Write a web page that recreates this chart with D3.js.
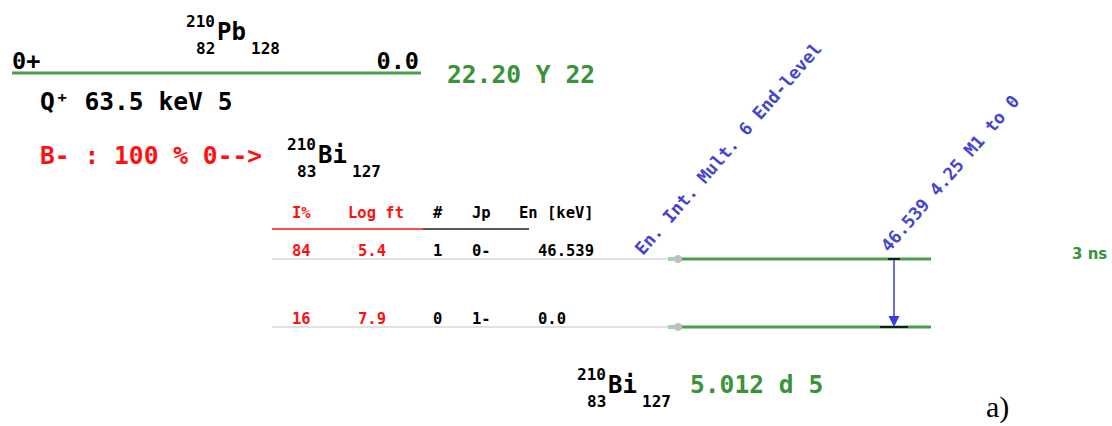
<!DOCTYPE html>
<html>
<head>
<meta charset="utf-8">
<script src="https://cdn.jsdelivr.net/npm/d3@7"></script>
<style>
  html, body { margin: 0; padding: 0; background: #fff; }
  svg { display: block; }
  text { font-family: "DejaVu Sans Mono", monospace; font-weight: bold; }
</style>
</head>
<body>
<svg id="chart" width="1112" height="426"></svg>
<script>
// Parent nucleus: 210Pb (Z=82, N=128)
const parentNuclide = ["210", "Pb", "82", "128"];
const parentSpin = "0+";
const parentEnergy = "0.0";
const parentHalfLife = "22.20 Y 22";
const qValue = "Q\u207A 63.5 keV 5";
const decayMode = "B- : 100 % 0-->";

// Daughter nucleus: 210Bi (Z=83, N=127)
const daughterNuclide = ["210", "Bi", "83", "127"];
const daughterHalfLife = "5.012 d 5";

// Daughter levels, top to bottom
const levelEnergies = [46.539, 0.0];
const levelEnergyLabels = ["46.539", "0.0"];
const levelIndex = [1, 0];
const levelSpins = ["0-", "1-"];
const betaIntensity = [84, 16];
const logFt = [5.4, 7.9];
const levelHalfLives = ["3 ns", ""];

// Table headings
const tableHeaders = ["I%", "Log ft", "#", "Jp", "En [keV]"];

// Gamma transitions
const gammaFrom = [46.539];
const gammaTo = [0.0];
const gammaIntensity = [4.25];
const gammaMult = ["M1"];
const gammaHeader = "En. Int. Mult. 6 End-level";

const GREEN_TEXT = "#3a923a";
const GREEN_LINE = "#4a9e4a";
const RED = "#ff1010";
const BLUE = "#4545d0";
const BIG = 24.6;

const svg = d3.select("#chart");
svg.append("rect").attr("width", 1112).attr("height", 426).attr("fill", "#fff");

// vertical scale for daughter levels
const yLevel = d3.scaleLinear().domain([0, d3.max(levelEnergies)]).range([327, 259]);

// table columns
const col = d3.scaleOrdinal()
  .domain(tableHeaders)
  .range([292, 348, 433, 472, 519]);
const valueX = [292, 358, 433, 472, 538];

// nuclide symbol with mass, atomic and neutron numbers
function nuclide(g, parts, x, yBase) {
  const [A, sym, Z, N] = parts;
  g.append("text").attr("x", x).attr("y", yBase - 13).attr("font-size", 16).text(A);
  g.append("text").attr("x", x + 31).attr("y", yBase).attr("font-size", 24).text(sym);
  g.append("text").attr("x", x + 10).attr("y", yBase + 14).attr("font-size", 16).text(Z);
  g.append("text").attr("x", x + 65).attr("y", yBase + 14).attr("font-size", 16).text(N);
}

// ---- parent level ----
const parentG = svg.append("g");
nuclide(parentG, parentNuclide, 186, 40);
parentG.append("line").attr("x1", 12).attr("x2", 421).attr("y1", 73).attr("y2", 73)
  .attr("stroke", GREEN_LINE).attr("stroke-width", 3);
parentG.append("text").attr("x", 12).attr("y", 69).attr("font-size", 23.5).text(parentSpin);
parentG.append("text").attr("x", 419).attr("y", 69).attr("font-size", 23.5)
  .attr("text-anchor", "end").text(parentEnergy);
parentG.append("text").attr("x", 447).attr("y", 83).attr("font-size", BIG)
  .attr("fill", GREEN_TEXT).text(parentHalfLife);
parentG.append("text").attr("x", 40).attr("y", 110).attr("font-size", BIG).text(qValue);
parentG.append("text").attr("x", 40).attr("y", 164).attr("font-size", BIG)
  .attr("fill", RED).text(decayMode);

// ---- daughter header ----
nuclide(svg.append("g"), daughterNuclide, 287, 163);

// ---- table heading ----
const head = svg.append("g");
head.selectAll("text").data(tableHeaders).join("text")
  .attr("x", d => col(d)).attr("y", 218).attr("font-size", 15.5)
  .attr("fill", (d, i) => i < 2 ? RED : "#000")
  .text(d => d);
head.append("line").attr("x1", 272).attr("x2", 423).attr("y1", 229).attr("y2", 229)
  .attr("stroke", RED).attr("stroke-width", 1.5);
head.append("line").attr("x1", 423).attr("x2", 529).attr("y1", 229).attr("y2", 229)
  .attr("stroke", "#222").attr("stroke-width", 1.5);

// ---- levels ----
const rows = svg.append("g").selectAll("g").data(levelEnergies).join("g")
  .attr("transform", d => `translate(0,${yLevel(d)})`);

rows.append("line").attr("x1", 272).attr("x2", 670).attr("y1", 0).attr("y2", 0)
  .attr("stroke", "#c4c4c4").attr("stroke-width", 1.2);
rows.append("line").attr("x1", 668).attr("x2", 682).attr("y1", 0).attr("y2", 0)
  .attr("stroke", "#a6d3a6").attr("stroke-width", 4);
rows.append("line").attr("x1", 680).attr("x2", 931).attr("y1", 0).attr("y2", 0)
  .attr("stroke", GREEN_LINE).attr("stroke-width", 3);
rows.append("circle").attr("cx", 678).attr("cy", 0).attr("r", 4).attr("fill", "#c0c0c0");

rows.each(function(d, i) {
  const g = d3.select(this);
  const cells = [betaIntensity[i], logFt[i].toFixed(1), levelIndex[i], levelSpins[i], levelEnergyLabels[i]];
  g.selectAll("text.cell").data(cells).join("text").attr("class", "cell")
    .attr("x", (c, j) => valueX[j]).attr("y", -3).attr("font-size", 15.5)
    .attr("fill", (c, j) => j < 2 ? RED : "#000")
    .text(c => c);
  if (levelHalfLives[i]) {
    g.append("text").attr("x", 1072).attr("y", 0)
      .style("font-family", "'DejaVu Sans', sans-serif").attr("font-size", 15)
      .attr("fill", GREEN_TEXT).text(levelHalfLives[i]);
  }
});

// ---- gamma header (rotated) ----
svg.append("text").attr("transform", "translate(643,256) rotate(-49)")
  .attr("font-size", 17.5).attr("fill", BLUE).text(gammaHeader);

// ---- gamma transitions ----
const gx = 894;
gammaFrom.forEach((from, i) => {
  const to = gammaTo[i];
  const g = svg.append("g");
  const y0 = yLevel(from), y1 = yLevel(to);
  g.append("line").attr("x1", gx).attr("x2", gx).attr("y1", y0).attr("y2", y1 - 10)
    .attr("stroke", "#3c3ce0").attr("stroke-width", 1.5);
  g.append("path").attr("d", `M${gx - 5.5},${y1 - 11} L${gx + 5.5},${y1 - 11} L${gx},${y1} Z`)
    .attr("fill", "#3c3ce0");
  g.append("line").attr("x1", gx - 6).attr("x2", gx + 6).attr("y1", y0).attr("y2", y0)
    .attr("stroke", "#111").attr("stroke-width", 1.8);
  g.append("line").attr("x1", gx - 14).attr("x2", gx + 14).attr("y1", y1).attr("y2", y1)
    .attr("stroke", "#111").attr("stroke-width", 1.8);
  const label = `${levelEnergyLabels[levelEnergies.indexOf(from)]} ${gammaIntensity[i]} ${gammaMult[i]} to ${to}`;
  g.append("text").attr("transform", `translate(${gx - 5},${y0 - 6}) rotate(-49)`)
    .attr("font-size", 17.5).attr("fill", BLUE).text(label);
});

// ---- daughter ground-state footer ----
const foot = svg.append("g");
nuclide(foot, daughterNuclide, 577, 393);
foot.append("text").attr("x", 690).attr("y", 393).attr("font-size", BIG)
  .attr("fill", GREEN_TEXT).text(daughterHalfLife);

// panel letter
svg.append("text").attr("x", 986).attr("y", 417)
  .style("font-family", "'Liberation Serif', serif").style("font-weight", "normal")
  .attr("font-size", 30).text("a)");
</script>
</body>
</html>
